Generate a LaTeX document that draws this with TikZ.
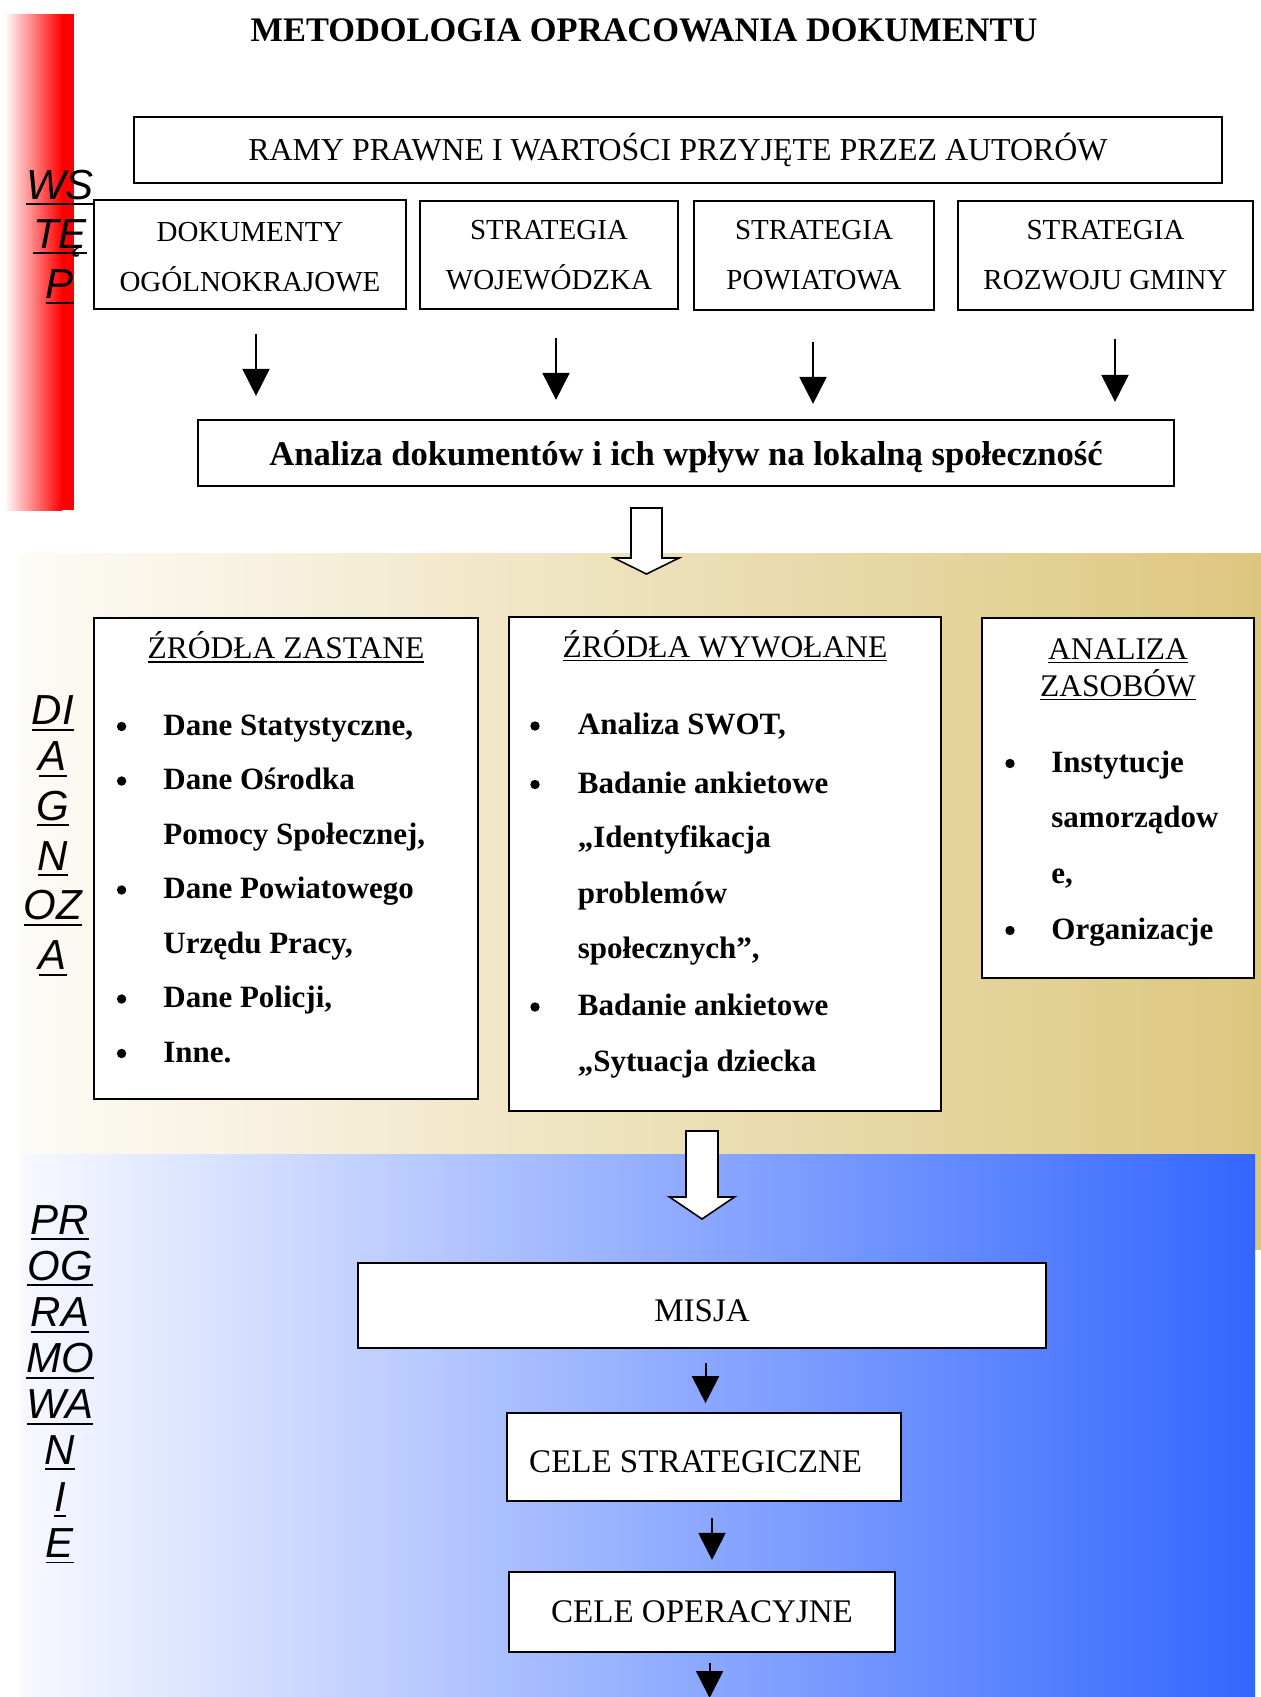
\documentclass[tikz,border=0pt]{standalone}
\usepackage{fontspec}
\setmainfont{Liberation Serif}
\newfontfamily\sidef{Liberation Sans}
\usetikzlibrary{arrows.meta}
\definecolor{tanR}{RGB}{221,199,127}
\definecolor{tanL}{RGB}{253,251,246}
\definecolor{blueR}{RGB}{51,102,255}
\definecolor{blueL}{RGB}{248,249,255}
\newsavebox\ulbx
\newlength\ulo \newlength\ult
\newcommand\myul[1]{\sbox\ulbx{#1}\rlap{\rule[-\ulo]{\wd\ulbx}{\ult}}\usebox\ulbx}
\tikzset{
  box/.style={draw, line width=1.1pt, fill=white, inner sep=0pt, align=center},
  stratf/.style={font=\fontsize{14.5}{25}\selectfont},
  thinarr/.style={line width=1pt, -{Triangle[length=13.5pt,width=13.5pt]}},
  blk/.style={draw=black, line width=0.8pt, fill=white, line join=miter},
  side/.style={inner sep=0pt, anchor=base, font=\sidef\itshape\fontsize{21}{24}\selectfont\setlength\ulo{3.0pt}\setlength\ult{0.85pt}},
  hd/.style={inner sep=0pt, anchor=base, font=\fontsize{15.75}{18}\selectfont\setlength\ulo{2.0pt}\setlength\ult{0.6pt}},
  itemf/.style={inner sep=0pt, font=\bfseries\fontsize{15.5}{18}\selectfont},
  bul/.style={circle, fill=black, inner sep=0pt, minimum size=4.7pt},
  low/.style={box, font=\fontsize{16.5}{20}\selectfont}
}
\newcommand\litem[5]{\node[bul] (#1b) at (#2,{#4-8.5}) {}; \node[itemf, anchor=base west] (#1) at (#3,#4) {#5};}
\newcommand\lcont[4]{\node[itemf, anchor=base west] (#1) at (#2,#3) {#4};}
\newcommand\blockarr[5]{\draw[blk] ({#1-#5},#2) -- ({#1+#5},#2) -- ({#1+#5},#3) -- ({#1+32.5},#3) -- (#1,#4) -- ({#1-32.5},#3) -- ({#1-#5},#3) -- cycle;}
\begin{document}
\begin{tikzpicture}[x=0.5pt,y=-0.5pt]
\useasboundingbox (0,0) rectangle (1261,1697);
\fill[white] (0,0) rectangle (1261,1697);
% background bands
\shade[left color=red!3, right color=red] (6,14) rectangle (62,510);
\fill[red] (61.5,14) rectangle (73.5,510);
\shade[left color=tanL, right color=tanR] (20,553) rectangle (1261,1249);
\shade[left color=blueL, right color=blueR] (20,1154) rectangle (1255,1697);

% title
\node[inner sep=0pt, anchor=base, font=\bfseries\fontsize{17.2}{20}\selectfont] (title) at (644,41.5) {METODOLOGIA OPRACOWANIA DOKUMENTU};

% side labels
\foreach \t/\yy [count=\i] in {WS/199,TĘ/248,P/298}
  \node[side] (ws\i) at (60,\yy) {\myul{\t}};
\foreach \t/\yy [count=\i] in {DI/724.5,A/770.5,G/820,N/870,OZ/919.8,A/969.5}
  \node[side] (dg\i) at (53,\yy) {\myul{\t}};
\foreach \t/\yy [count=\i] in {PR/1234,OG/1280,RA/1326.5,MO/1372.7,WA/1418.9,N/1464,I/1511,E/1557.4}
  \node[side] (pg\i) at (60,\yy) {\myul{\t}};

% top boxes
\node[box, minimum width=544pt, minimum height=33pt, font=\fontsize{15.95}{18}\selectfont] (ramy) at (678,150) {RAMY PRAWNE I WARTOŚCI PRZYJĘTE PRZEZ AUTORÓW};
\node[box, stratf, minimum width=156pt, minimum height=54.5pt] (dok) at (250,254.5) {\rule{0pt}{12.3pt}DOKUMENTY\\OGÓLNOKRAJOWE};
\node[box, stratf, minimum width=129pt, minimum height=54.25pt] (woj) at (549,255) {STRATEGIA\\WOJEWÓDZKA};
\node[box, stratf, minimum width=120pt, minimum height=54.5pt] (pow) at (814,255.5) {STRATEGIA\\POWIATOWA};
\node[box, stratf, minimum width=147.5pt, minimum height=54.5pt] (gmi) at (1105.5,255.5) {STRATEGIA\\ROZWOJU GMINY};
\node[box, minimum width=488pt, minimum height=33pt, text height=13pt, text depth=1pt, font=\bfseries\fontsize{17.3}{20}\selectfont] (ana) at (686,453) {Analiza dokumentów i ich wpływ na lokalną społeczność};

% thin arrows to analysis
\coordinate (a1t) at ([xshift=3pt]dok.south);   \coordinate (a1b) at (a1t |- ana.north);
\coordinate (a2t) at ([xshift=3.5pt]woj.south); \coordinate (a2b) at (a2t |- ana.north);
\coordinate (a3t) at ([xshift=-0.5pt]pow.south); \coordinate (a3b) at (a3t |- ana.north);
\coordinate (a4t) at ([xshift=4.75pt]gmi.south); \coordinate (a4b) at (a4t |- ana.north);
\draw[thinarr, shorten <=12pt, shorten >=11.5pt] (a1t) -- (a1b);
\draw[thinarr, shorten <=14pt, shorten >=9.5pt] (a2t) -- (a2b);
\draw[thinarr, shorten <=15.5pt, shorten >=7.5pt] (a3t) -- (a3b);
\draw[thinarr, shorten <=14pt, shorten >=8.5pt] (a4t) -- (a4b);

% diagnosis boxes
\node[box, minimum width=192pt, minimum height=240.5pt] (zas) at (286,858.5) {};
\node[box, minimum width=216pt, minimum height=247pt] (wyw) at (725,864) {};
\node[box, minimum width=136pt, minimum height=180pt] (zasob) at (1118,798) {};

\node[hd] (zasT) at (286,658.6) {\myul{ŹRÓDŁA ZASTANE}};
\node[hd] (wywT) at (725,657) {\myul{ŹRÓDŁA WYWOŁANE}};
\node[hd] (zasobT1) at (1118,659.4) {\myul{ANALIZA}};
\node[hd] (zasobT2) at (1118,696) {\myul{ZASOBÓW}};

\litem{z1}{121.6}{163}{735}{Dane Statystyczne,}
\litem{z2}{121.6}{163}{789.5}{Dane Ośrodka}
\lcont{z3}{163}{844}{Pomocy Społecznej,}
\litem{z4}{121.6}{163}{898.5}{Dane Powiatowego}
\lcont{z5}{163}{953}{Urzędu Pracy,}
\litem{z6}{121.6}{163}{1007.5}{Dane Policji,}
\litem{z7}{121.6}{163}{1062}{Inne.}

\litem{w1}{535}{577.5}{734.5}{Analiza SWOT,}
\litem{w2}{535}{577.5}{793}{Badanie ankietowe}
\lcont{w3}{577.5}{847.5}{„Identyfikacja}
\lcont{w4}{577.5}{903}{problemów}
\lcont{w5}{577.5}{958.5}{społecznych”,}
\litem{w6}{535}{577.5}{1015.5}{Badanie ankietowe}
\lcont{w7}{577.5}{1071}{„Sytuacja dziecka}

\litem{s1}{1010}{1051}{772}{Instytucje}
\lcont{s2}{1051}{827.5}{samorządow}
\lcont{s3}{1051}{883}{e,}
\litem{s4}{1010}{1051}{939}{Organizacje}

% block arrows
\blockarr{646.5}{508}{558}{574}{15.5}
\blockarr{702}{1131}{1197}{1219}{16}

% programming boxes
\node[low, minimum width=344pt, minimum height=42.5pt, text height=15.5pt, text depth=0pt] (misja) at (702,1305.5) {MISJA};
\node[low, minimum width=197pt, minimum height=43.75pt, text height=15pt, text depth=0pt] (cst) at (704,1457) {\hspace*{-8.4pt}CELE STRATEGICZNE};
\node[low, minimum width=193pt, minimum height=40pt] (cop) at (702,1612) {CELE OPERACYJNE};

\coordinate (b1t) at ([xshift=1.75pt]misja.south); \coordinate (b1b) at (b1t |- cst.north);
\coordinate (b2t) at ([xshift=4pt]cst.south); \coordinate (b2b) at (b2t |- cop.north);
\coordinate (b3t) at ([xshift=3.8pt]cop.south); \coordinate (b3b) at (709.6,1698);
\draw[thinarr, shorten <=7pt, shorten >=4.5pt] (b1t) -- (b1b);
\draw[thinarr, shorten <=8.3pt, shorten >=5.5pt] (b2t) -- (b2b);
\draw[thinarr, shorten <=4.75pt] (b3t) -- (b3b);
\end{tikzpicture}
\end{document}
